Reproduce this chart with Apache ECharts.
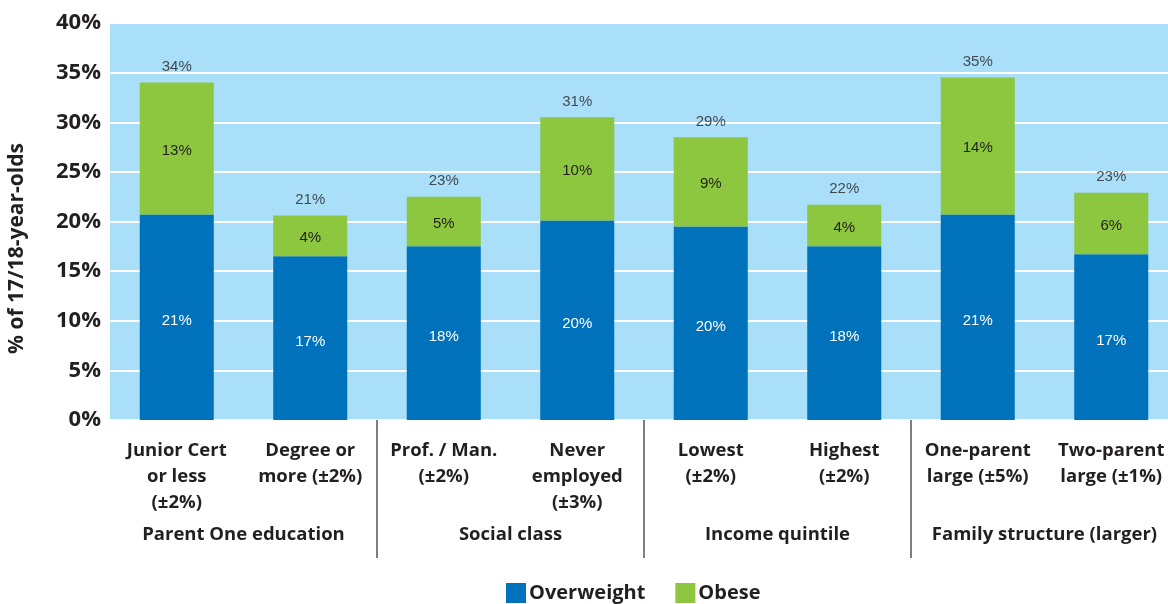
<!DOCTYPE html>
<html>
<head>
<meta charset="utf-8">
<script src="https://cdn.jsdelivr.net/npm/echarts@6/dist/echarts.min.js"></script>
<style>
  html, body { margin: 0; padding: 0; background: #fff; }
  #chart { width: 1168px; height: 604px; }
</style>
</head>
<body>
<div id="chart"></div>
<script>
// categories (bottom row) and their groups
const categories = [
  "Junior Cert\nor less\n(±2%)",
  "Degree or\nmore (±2%)",
  "Prof. / Man.\n(±2%)",
  "Never\nemployed\n(±3%)",
  "Lowest\n(±2%)",
  "Highest\n(±2%)",
  "One-parent\nlarge (±5%)",
  "Two-parent\nlarge (±1%)"
];
const groups = ["Parent One education", "Social class", "Income quintile", "Family structure (larger)"];

// values in %
const overweight = [20.7, 16.5, 17.5, 20.1, 19.5, 17.5, 20.7, 16.7];
const obese = [13.3, 4.1, 5.0, 10.4, 9.0, 4.2, 13.8, 6.2];
const totals = overweight.map((v, i) => Math.round((v + obese[i]) * 10) / 10);

const yTicks = [0, 5, 10, 15, 20, 25, 30, 35, 40];

const boldFont = "Open Sans";
const textColor = "#231f20";

const chart = echarts.init(document.getElementById("chart"));

chart.setOption({
  animation: false,
  legend: {
    data: ["Overweight", "Obese"],
    top: 578,
    left: 501,
    itemWidth: 20,
    itemHeight: 20,
    itemGap: 30,
    icon: "rect",
    textStyle: { fontFamily: boldFont, fontWeight: "bold", fontSize: 20, color: textColor, padding: [0, 0, 0, -2] }
  },
  grid: {
    left: 110,
    width: 1068,
    top: 23,
    bottom: 184,
    outerBoundsMode: "none",
    containLabel: false,
    show: true,
    backgroundColor: "#a9dff8",
    borderWidth: 0
  },
  xAxis: [
    {
      type: "category",
      data: categories,
      axisLine: { show: false },
      axisTick: { show: false },
      axisLabel: {
        interval: 0,
        margin: 18,
        fontFamily: boldFont,
        fontWeight: "bold",
        fontSize: 18.5,
        lineHeight: 26,
        color: textColor,
        align: "center"
      }
    },
    {
      type: "category",
      data: groups,
      position: "bottom",
      axisLine: { show: false },
      axisTick: {
        show: true,
        length: 138,
        interval: (i) => i > 0,
        lineStyle: { color: "#555", width: 1.5 }
      },
      axisLabel: {
        interval: 0,
        margin: 105,
        fontFamily: boldFont,
        fontWeight: "bold",
        fontSize: 18.5,
        color: textColor
      }
    }
  ],
  yAxis: {
    type: "value",
    min: yTicks[0],
    max: yTicks[yTicks.length - 1],
    interval: 5,
    name: "% of 17/18-year-olds",
    nameLocation: "middle",
    nameRotate: 90,
    nameGap: 82,
    nameTextStyle: {
      fontFamily: boldFont,
      fontWeight: "bold",
      fontSize: 21,
      color: textColor,
      padding: [0, 54, 0, 0]
    },
    axisLine: { show: false },
    axisTick: { show: false },
    axisLabel: {
      margin: 9,
      formatter: "{value}%",
      fontFamily: boldFont,
      fontWeight: "bold",
      fontSize: 22,
      color: textColor
    },
    splitLine: { lineStyle: { color: "#ffffff", width: 2 } }
  },
  series: [
    {
      name: "Overweight",
      type: "bar",
      stack: "total",
      barWidth: 74,
      data: overweight,
      itemStyle: { color: "#0071bb" },
      label: {
        show: true,
        position: "inside",
        offset: [0, 4],
        formatter: (p) => Math.round(p.value) + "%",
        fontFamily: "Liberation Sans",
        fontSize: 15,
        color: "#ffffff"
      }
    },
    {
      name: "Obese",
      type: "bar",
      stack: "total",
      barWidth: 74,
      data: obese,
      itemStyle: { color: "#8dc63f" },
      label: {
        show: true,
        position: "inside",
        offset: [0, 2],
        formatter: (p) => Math.round(p.value) + "%",
        fontFamily: "Liberation Sans",
        fontSize: 15,
        color: "#231f20"
      }
    },
    {
      name: "Total",
      type: "scatter",
      data: totals,
      symbolSize: 0,
      silent: true,
      label: {
        show: true,
        position: "top",
        distance: 8,
        formatter: (p) => Math.round(p.value) + "%",
        fontFamily: "Liberation Sans",
        fontSize: 15,
        color: "#231f20"
      }
    }
  ]
});
</script>
</body>
</html>
